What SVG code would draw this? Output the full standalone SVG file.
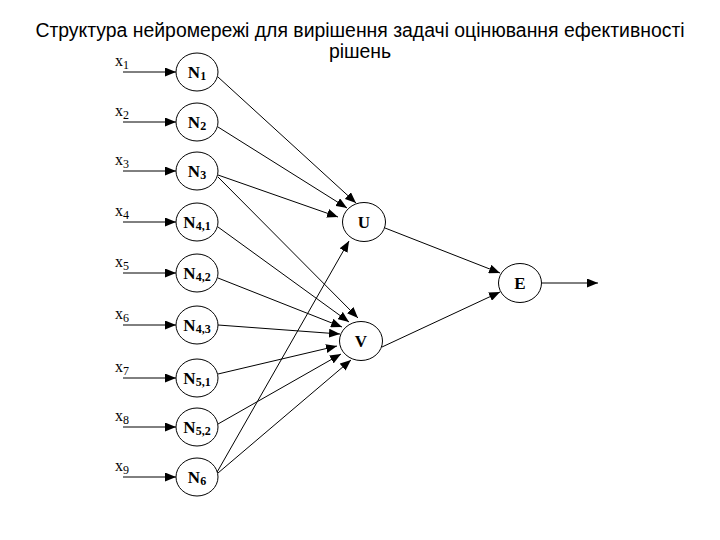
<svg xmlns="http://www.w3.org/2000/svg" width="720" height="540" viewBox="0 0 720 540">
<defs>
<marker id="ah" viewBox="0 0 11 9" refX="11" refY="4.5" markerWidth="11" markerHeight="9" markerUnits="userSpaceOnUse" orient="auto">
<path d="M0,0 L11,4.5 L0,9 z" fill="#000"/>
</marker>
<style>
.title{font-family:"Liberation Sans",Arial,sans-serif;font-size:19.4px;fill:#000;text-anchor:middle}
.in{font-family:"Liberation Serif","Times New Roman",serif;font-size:16px;fill:#000}
.lbl{font-family:"Liberation Serif","Times New Roman",serif;font-size:17px;font-weight:bold;fill:#000;text-anchor:middle}
.node{fill:#fff;stroke:#000;stroke-width:1}
.c{stroke:#000;stroke-width:1;fill:none;marker-end:url(#ah)}
</style>
</defs>
<rect width="720" height="540" fill="#fff"/>
<text class="title" x="360" y="37">Структура нейромережі для вирішення задачі оцінювання ефективності</text>
<text class="title" x="360" y="58">рішень</text>

<g id="connectors">
<line class="c" x1="123" y1="72" x2="176" y2="72"/>
<line class="c" x1="123" y1="122" x2="176" y2="122"/>
<line class="c" x1="123" y1="171" x2="176" y2="171"/>
<line class="c" x1="123" y1="222" x2="176" y2="222"/>
<line class="c" x1="123" y1="273" x2="176" y2="273"/>
<line class="c" x1="123" y1="325" x2="176" y2="325"/>
<line class="c" x1="123" y1="378" x2="176" y2="378"/>
<line class="c" x1="123" y1="427" x2="176" y2="427"/>
<line class="c" x1="123" y1="477" x2="176" y2="477"/>
<line class="c" x1="218" y1="77" x2="356" y2="203"/>
<line class="c" x1="218" y1="127" x2="347" y2="208"/>
<line class="c" x1="218" y1="175" x2="338" y2="217"/>
<line class="c" x1="218" y1="177" x2="358" y2="318"/>
<line class="c" x1="218" y1="227" x2="349" y2="322"/>
<line class="c" x1="218" y1="278" x2="342" y2="327"/>
<line class="c" x1="218" y1="325" x2="340" y2="334"/>
<line class="c" x1="218" y1="374" x2="337" y2="346"/>
<line class="c" x1="218" y1="424" x2="341" y2="354"/>
<line class="c" x1="218" y1="473" x2="351" y2="360"/>
<line class="c" x1="216" y1="474" x2="349" y2="241"/>
<line class="c" x1="385" y1="228" x2="500" y2="273"/>
<line class="c" x1="382" y1="347" x2="500" y2="292"/>
<line class="c" x1="542" y1="283" x2="598" y2="283"/>
</g>

<g id="inputs">
<text class="in" x="115" y="66">x<tspan font-size="12" dy="3">1</tspan></text>
<text class="in" x="115" y="116">x<tspan font-size="12" dy="3">2</tspan></text>
<text class="in" x="115" y="165">x<tspan font-size="12" dy="3">3</tspan></text>
<text class="in" x="115" y="216">x<tspan font-size="12" dy="3">4</tspan></text>
<text class="in" x="115" y="267">x<tspan font-size="12" dy="3">5</tspan></text>
<text class="in" x="115" y="319">x<tspan font-size="12" dy="3">6</tspan></text>
<text class="in" x="115" y="372">x<tspan font-size="12" dy="3">7</tspan></text>
<text class="in" x="115" y="421">x<tspan font-size="12" dy="3">8</tspan></text>
<text class="in" x="115" y="471">x<tspan font-size="12" dy="3">9</tspan></text>
</g>

<g id="N1"><ellipse class="node" cx="197" cy="72" rx="21" ry="19"/><text class="lbl" x="197" y="78">N<tspan font-size="12" dy="2">1</tspan></text></g>
<g id="N2"><ellipse class="node" cx="197" cy="122" rx="21" ry="19"/><text class="lbl" x="197" y="128">N<tspan font-size="12" dy="2">2</tspan></text></g>
<g id="N3"><ellipse class="node" cx="197" cy="171" rx="21" ry="19"/><text class="lbl" x="197" y="177">N<tspan font-size="12" dy="2">3</tspan></text></g>
<g id="N41"><ellipse class="node" cx="197" cy="222" rx="21" ry="19"/><text class="lbl" x="197" y="228">N<tspan font-size="12" dy="2">4,1</tspan></text></g>
<g id="N42"><ellipse class="node" cx="197" cy="273" rx="21" ry="19"/><text class="lbl" x="197" y="279">N<tspan font-size="12" dy="2">4,2</tspan></text></g>
<g id="N43"><ellipse class="node" cx="197" cy="325" rx="21" ry="19"/><text class="lbl" x="197" y="331">N<tspan font-size="12" dy="2">4,3</tspan></text></g>
<g id="N51"><ellipse class="node" cx="197" cy="378" rx="21" ry="19"/><text class="lbl" x="197" y="384">N<tspan font-size="12" dy="2">5,1</tspan></text></g>
<g id="N52"><ellipse class="node" cx="197" cy="427" rx="21" ry="19"/><text class="lbl" x="197" y="433">N<tspan font-size="12" dy="2">5,2</tspan></text></g>
<g id="N6"><ellipse class="node" cx="197" cy="477" rx="21" ry="19"/><text class="lbl" x="197" y="483">N<tspan font-size="12" dy="2">6</tspan></text></g>

<g id="U"><ellipse class="node" cx="364" cy="222" rx="21.5" ry="19.5"/><text class="lbl" x="364" y="228" font-size="15">U</text></g>
<g id="V"><ellipse class="node" cx="361" cy="341" rx="21.5" ry="19.5"/><text class="lbl" x="361" y="347" font-size="15">V</text></g>
<g id="E"><ellipse class="node" cx="520" cy="283" rx="21.5" ry="19.5"/><text class="lbl" x="520" y="289" font-size="15">E</text></g>
</svg>
